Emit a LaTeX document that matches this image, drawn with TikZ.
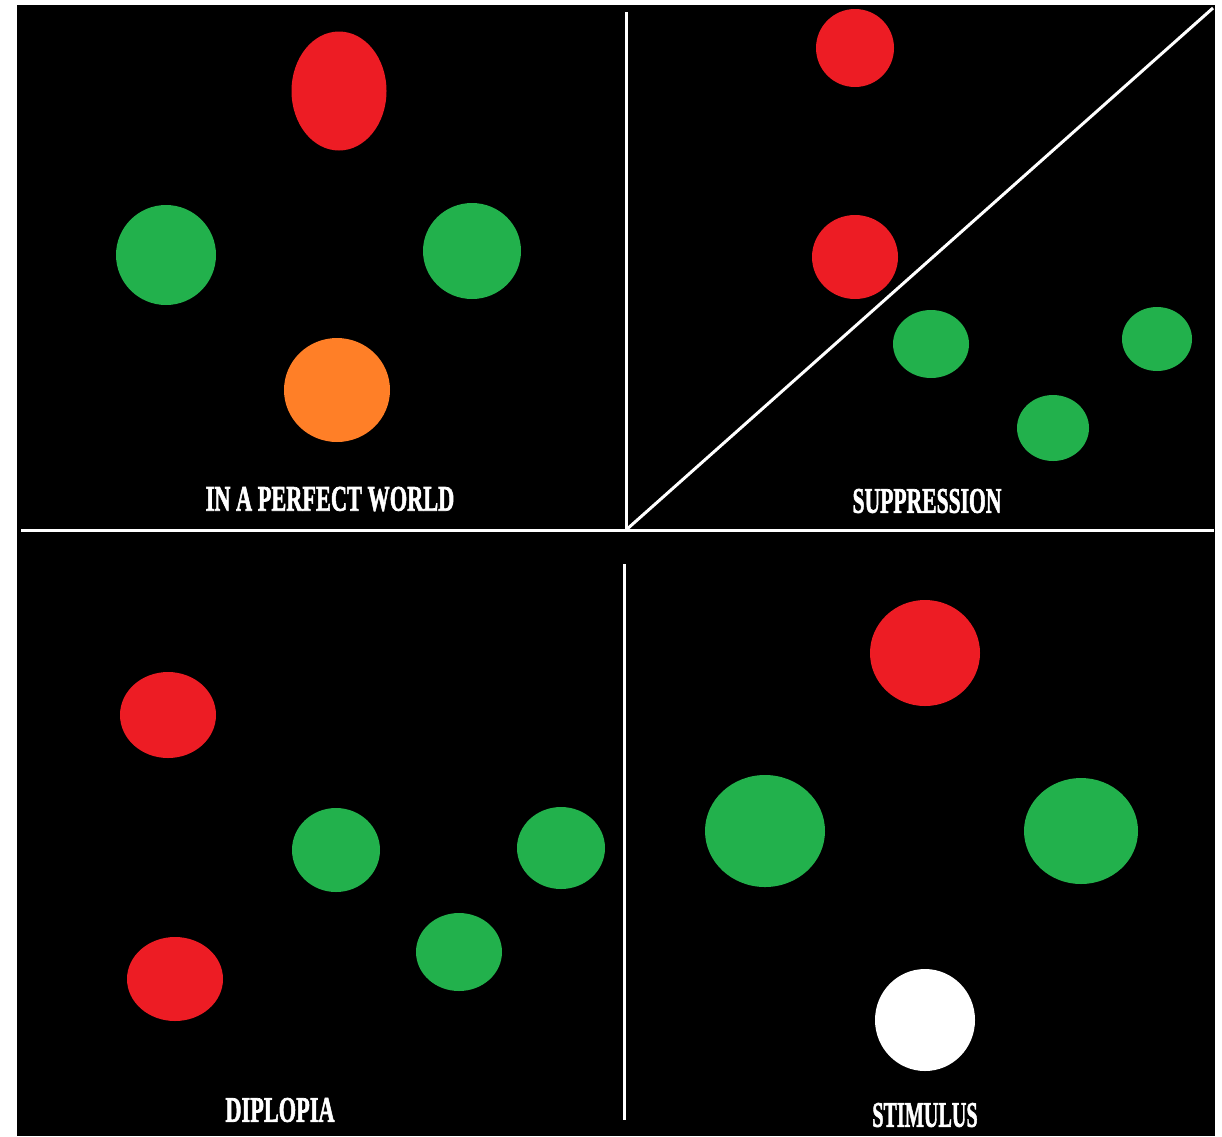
\documentclass[tikz,border=0pt]{standalone}
\usepackage{fontspec}
\usepackage{graphicx}
\setmainfont{Liberation Serif}
\newfontfamily\titulofonte{Liberation Serif}[BoldFeatures={FakeBold=2}]
\usetikzlibrary{shapes.geometric}

\definecolor{vermelho}{HTML}{ED1C24}
\definecolor{verde}{HTML}{22B14C}
\definecolor{laranja}{HTML}{FF7F27}

\begin{document}
\begin{tikzpicture}[
    x=1pt, y=-1pt,
    % Estímulos (elipses)
    bola/.style={
        ellipse, draw=none, inner sep=0pt
    },
    % Títulos de cada quadrante
    rotulo/.style={
        text=white, inner sep=0pt, anchor=center,
        font=\titulofonte\fontsize{36}{38}\selectfont\bfseries
    },
    divisor/.style={draw=white, line width=3pt}
]

% ---- FUNDO ----
\useasboundingbox (0, 0) rectangle (1222, 1136);
\fill[white] (0, 0) rectangle (1222, 1136);
\fill[black] (17, 5) rectangle (1215, 1136);

% ---- DIVISORES ----
\coordinate (centro)  at (626, 530);
\coordinate (esq)     at (21, 530);
\coordinate (dir)     at (1214, 530);
\coordinate (topo)    at (626, 12);
\coordinate (baixo_i) at (624, 564);
\coordinate (baixo_f) at (624, 1120);
\coordinate (canto)   at (1213, 8);

\draw[divisor] (esq) -- (dir);
\draw[divisor] (topo) -- (centro);
\draw[divisor] (baixo_i) -- (baixo_f);
\draw[divisor] (centro) -- (canto);

% ---- QUADRANTE 1: MUNDO PERFEITO ----
\node[bola, fill=vermelho, minimum width=95pt, minimum height=119pt] (p_verm) at (339, 91) {};
\node[bola, fill=verde,    minimum width=100pt, minimum height=100pt] (p_ve1) at (166, 255) {};
\node[bola, fill=verde,    minimum width=98pt, minimum height=96pt] (p_ve2) at (472, 251) {};
\node[bola, fill=laranja,  minimum width=106pt, minimum height=104pt] (p_lar) at (337, 390) {};
\node[rotulo] (r_perf) at (330, 499) {\scalebox{0.62}[1]{IN A PERFECT WORLD}};

% ---- QUADRANTE 2: SUPRESSÃO ----
\node[bola, fill=vermelho, minimum width=78pt, minimum height=78pt] (s_verm1) at (855, 48) {};
\node[bola, fill=vermelho, minimum width=86pt, minimum height=84pt] (s_verm2) at (855, 257) {};
\node[bola, fill=verde,    minimum width=76pt, minimum height=68pt] (s_ve1) at (931, 344) {};
\node[bola, fill=verde,    minimum width=70pt, minimum height=64pt] (s_ve2) at (1157, 339) {};
\node[bola, fill=verde,    minimum width=72pt, minimum height=66pt] (s_ve3) at (1053, 428) {};
\node[rotulo] (r_supr) at (927, 501) {\scalebox{0.6}[1]{SUPPRESSION}};

% ---- QUADRANTE 3: DIPLOPIA ----
\node[bola, fill=vermelho, minimum width=96pt, minimum height=86pt] (d_verm1) at (168, 715) {};
\node[bola, fill=vermelho, minimum width=96pt, minimum height=84pt] (d_verm2) at (175, 979) {};
\node[bola, fill=verde,    minimum width=88pt, minimum height=84pt] (d_ve1) at (336, 850) {};
\node[bola, fill=verde,    minimum width=88pt, minimum height=82pt] (d_ve2) at (561, 848) {};
\node[bola, fill=verde,    minimum width=86pt, minimum height=78pt] (d_ve3) at (459, 952) {};
\node[rotulo] (r_dipl) at (280, 1110) {\scalebox{0.62}[1]{DIPLOPIA}};

% ---- QUADRANTE 4: ESTÍMULO ----
\node[bola, fill=vermelho, minimum width=110pt, minimum height=106pt] (e_verm) at (925, 653) {};
\node[bola, fill=verde,    minimum width=120pt, minimum height=112pt] (e_ve1) at (765, 831) {};
\node[bola, fill=verde,    minimum width=114pt, minimum height=106pt] (e_ve2) at (1081, 831) {};
\node[bola, fill=white,    minimum width=100pt, minimum height=102pt] (e_bra) at (925, 1020) {};
\node[rotulo] (r_esti) at (925, 1115) {\scalebox{0.56}[1]{STIMULUS}};

\end{tikzpicture}
\end{document}
